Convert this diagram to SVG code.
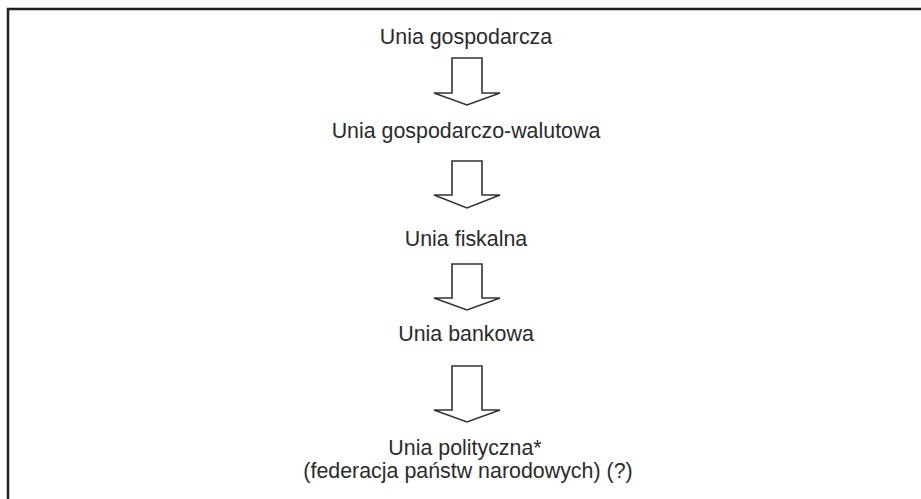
<svg xmlns="http://www.w3.org/2000/svg" width="921" height="499" viewBox="0 0 921 499">
<style>
.t{font-family:"Liberation Sans",Arial,sans-serif;font-size:21.4px;fill:#2b2b2b;text-anchor:middle}
.a{fill:#fff;stroke:#333;stroke-width:1.6;stroke-linejoin:miter}
</style>
<rect width="921" height="499" fill="#fff"/>
<path d="M8,499 V9 H921" fill="none" stroke="#231f20" stroke-width="2.5"/>
<g id="n1"><text class="t" x="466" y="44">Unia gospodarcza</text></g>
<g id="n2"><text class="t" x="466" y="138">Unia gospodarczo-walutowa</text></g>
<g id="n3"><text class="t" x="466" y="246">Unia fiskalna</text></g>
<g id="n4"><text class="t" x="466" y="341">Unia bankowa</text></g>
<g id="n5"><text class="t" x="465" y="455">Unia polityczna*</text><text class="t" x="468" y="478">(federacja państw narodowych) (?)</text></g>
<g id="connectors">
<path class="a" d="M452,58 H482 V93 H500 L467,105 L434,93 H452 Z"/>
<path class="a" d="M452,161 H482 V195 H500 L467,208 L434,195 H452 Z"/>
<path class="a" d="M452,264 H482 V298 H500 L467,310 L434,298 H452 Z"/>
<path class="a" d="M452,366 H482 V410 H500 L467,422 L434,410 H452 Z"/>
</g>
</svg>
